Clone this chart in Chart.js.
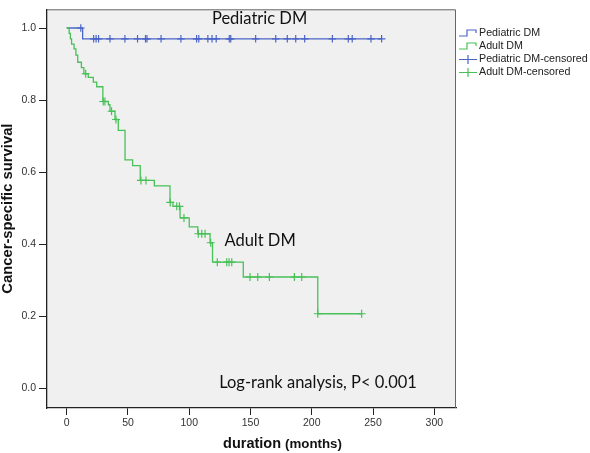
<!DOCTYPE html>
<html>
<head>
<meta charset="utf-8">
<script src="https://cdn.jsdelivr.net/npm/chart.js@4.4.1/dist/chart.umd.min.js"></script>
<style>
html,body{margin:0;padding:0;background:#fff;}
canvas{display:block;}
</style>
</head>
<body>
<canvas id="c" width="590" height="453"></canvas>
<script>
// ---- data ----
const seriesNames = ['Pediatric DM', 'Adult DM', 'Pediatric DM-censored', 'Adult DM-censored'];

// Kaplan-Meier step points (time in months, survival after event)
const pedTimes = [0, 13, 257];
const pedSurv  = [1.0, 0.970, 0.970];

const adultTimes = [0, 2, 3, 4, 6, 7.5, 9, 12, 14, 17.6, 21.7, 24.5, 29.5, 34, 35.3, 39.4, 42.1, 47.6, 53.8, 60, 71.5, 84.3, 86.7, 92.5, 100, 107, 117, 119, 144.1, 204.9, 240.7];
const adultSurv  = [1.0, 0.985, 0.97, 0.955, 0.942, 0.925, 0.905, 0.89, 0.873, 0.863, 0.85, 0.837, 0.796, 0.787, 0.769, 0.746, 0.716, 0.634, 0.618, 0.577, 0.562, 0.516, 0.505, 0.473, 0.448, 0.429, 0.404, 0.35, 0.309, 0.207, 0.207];

// censored observations
const pedCensorTimes = [11.5, 22, 24, 26, 35.3, 47.5, 57.8, 64.3, 65.5, 77, 93.2, 106, 107.8, 115.2, 118.6, 122, 132.7, 133.9, 154.2, 170.6, 180, 186.9, 194.2, 216.8, 229.8, 233, 248.3, 257];
const pedCensorSurv  = [1.0, 0.97, 0.97, 0.97, 0.97, 0.97, 0.97, 0.97, 0.97, 0.97, 0.97, 0.97, 0.97, 0.97, 0.97, 0.97, 0.97, 0.97, 0.97, 0.97, 0.97, 0.97, 0.97, 0.97, 0.97, 0.97, 0.97, 0.97];

const adultCensorTimes = [15.5, 29.8, 31.2, 36.6, 40.2, 60.6, 64.7, 84.5, 89.8, 92, 95.7, 107.4, 110.2, 112.9, 117.5, 122.9, 130.6, 132.5, 134.7, 149.6, 155.9, 165.4, 185.8, 191.8, 204.9, 240.7];
const adultCensorSurv  = [0.873, 0.796, 0.796, 0.769, 0.746, 0.577, 0.577, 0.516, 0.505, 0.505, 0.473, 0.429, 0.429, 0.429, 0.404, 0.35, 0.35, 0.35, 0.35, 0.309, 0.309, 0.309, 0.309, 0.309, 0.207, 0.207];

// axes
const xTicks = [0, 50, 100, 150, 200, 250, 300];
const xTickLabels = ['0', '50', '100', '150', '200', '250', '300'];
const yTicks = [0, 0.2, 0.4, 0.6, 0.8, 1.0];
const yTickLabels = ['0.0', '0.2', '0.4', '0.6', '0.8', '1.0'];
const xTitleMain = 'duration';
const xTitleUnit = '(months)';
const yTitle = 'Cancer-specific survival';

// in-plot annotations (data coordinates)
const noteTexts = ['Pediatric DM', 'Adult DM', 'Log-rank analysis, P< 0.001'];
const noteX = [157.4, 157.8, 205.1];
const noteY = [1.027, 0.41, 0.016];

// ---- styling ----
const BLUE = '#4a64c8';
const GREEN = '#47c157';
const toPts = (xs, ys) => xs.map((x, i) => ({x: x, y: ys[i]}));

const bgPlugin = {
  id: 'plotbg',
  beforeDraw(chart) {
    const {ctx, chartArea: a} = chart;
    ctx.save();
    ctx.fillStyle = '#f0f0f0';
    ctx.fillRect(a.left, a.top, a.right - a.left, a.bottom - a.top);
    ctx.restore();
  },
  afterDraw(chart) {
    const {ctx, chartArea: a, scales} = chart;
    ctx.save();
    // frame top / right
    ctx.strokeStyle = '#666';
    ctx.lineWidth = 1;
    ctx.beginPath();
    ctx.moveTo(a.left, a.top + 0.5);
    ctx.lineTo(a.right - 0.5, a.top + 0.5);
    ctx.lineTo(a.right - 0.5, a.bottom);
    ctx.stroke();

    // annotations
    ctx.fillStyle = '#111';
    ctx.textAlign = 'center';
    ctx.textBaseline = 'middle';
    ctx.font = '16.5px Lato, "Open Sans", sans-serif';
    noteTexts.forEach((t, i) => {
      ctx.fillText(t, scales.x.getPixelForValue(noteX[i]), scales.y.getPixelForValue(noteY[i]));
    });

    // x axis title (two sizes)
    ctx.textAlign = 'left';
    ctx.textBaseline = 'alphabetic';
    ctx.fillStyle = '#111';
    const f1 = 'bold 14.5px "Liberation Sans", Arial, sans-serif';
    const f2 = 'bold 13.3px "Liberation Sans", Arial, sans-serif';
    ctx.font = f1; const w1 = ctx.measureText(xTitleMain + ' ').width;
    ctx.font = f2; const w2 = ctx.measureText(xTitleUnit).width;
    const cx = a.left + 235.5;
    let sx = cx - (w1 + w2) / 2;
    const by = 448;
    ctx.font = f1; ctx.fillText(xTitleMain + ' ', sx, by);
    ctx.font = f2; ctx.fillText(xTitleUnit, sx + w1, by);

    // legend
    const lx = 459, rows = [33, 46, 59.5, 72.5];
    const cols = [BLUE, GREEN, BLUE, GREEN];
    ctx.font = '10.7px "Liberation Sans", Arial, sans-serif';
    ctx.textBaseline = 'middle';
    rows.forEach((ry, i) => {
      ctx.strokeStyle = cols[i];
      ctx.lineWidth = 1.2;
      ctx.beginPath();
      if (i < 2) {
        ctx.moveTo(lx, ry + 3); ctx.lineTo(lx + 8, ry + 3); ctx.lineTo(lx + 8, ry - 3);
        ctx.lineTo(lx + 17, ry - 3); ctx.lineTo(lx + 17, ry);
      } else {
        ctx.moveTo(lx, ry); ctx.lineTo(lx + 18, ry);
        ctx.moveTo(lx + 9, ry - 4.5); ctx.lineTo(lx + 9, ry + 4.5);
      }
      ctx.stroke();
      ctx.fillStyle = '#222';
      ctx.fillText(seriesNames[i], lx + 20, ry);
    });
    ctx.restore();
  }
};

new Chart(document.getElementById('c'), {
  type: 'scatter',
  data: {
    datasets: [
      {label: seriesNames[0], type: 'line', data: toPts(pedTimes, pedSurv), borderColor: BLUE, borderWidth: 1.3, stepped: 'before', pointRadius: 0, fill: false, order: 2},
      {label: seriesNames[1], type: 'line', data: toPts(adultTimes, adultSurv), borderColor: GREEN, borderWidth: 1.3, stepped: 'before', pointRadius: 0, fill: false, order: 1},
      {label: seriesNames[2], data: toPts(pedCensorTimes, pedCensorSurv), pointStyle: 'cross', pointRadius: 3.8, borderColor: BLUE, borderWidth: 1.2, backgroundColor: BLUE, showLine: false, order: 2},
      {label: seriesNames[3], data: toPts(adultCensorTimes, adultCensorSurv), pointStyle: 'cross', pointRadius: 4, borderColor: GREEN, borderWidth: 1.2, backgroundColor: GREEN, showLine: false, order: 1}
    ]
  },
  options: {
    responsive: false,
    animation: false,
    events: [],
    layout: {padding: {top: 3, right: 134, left: 0, bottom: 0}},
    plugins: {legend: {display: false}, tooltip: {enabled: false}, title: {display: false}},
    scales: {
      x: {
        type: 'linear', min: -16.08, max: 317.7,
        afterBuildTicks: s => { s.ticks = xTicks.map(v => ({value: v})); },
        afterFit: s => { s.height = 45; },
        grid: {drawOnChartArea: false, drawTicks: true, tickLength: 7, color: '#222', lineWidth: 1},
        border: {display: true, color: '#222', width: 1.3},
        ticks: {color: '#333', font: {family: '"Liberation Sans", Arial, sans-serif', size: 10.5}, padding: 2, maxRotation: 0, autoSkip: false,
          callback: (v) => { const i = xTicks.indexOf(v); return i >= 0 ? xTickLabels[i] : ''; }}
      },
      y: {
        type: 'linear', min: -0.0546, max: 1.0519,
        afterBuildTicks: s => { s.ticks = yTicks.map(v => ({value: v})); },
        afterFit: s => { s.width = 47; },
        grid: {drawOnChartArea: false, drawTicks: true, tickLength: 8, color: '#222', lineWidth: 1},
        border: {display: true, color: '#222', width: 1.3},
        ticks: {color: '#333', font: {family: '"Liberation Sans", Arial, sans-serif', size: 10.5}, padding: 3, autoSkip: false,
          callback: (v) => { const i = yTicks.findIndex(t => Math.abs(t - v) < 1e-9); return i >= 0 ? yTickLabels[i] : ''; }},
        title: {display: true, text: yTitle, color: '#111', padding: {top: 0, bottom: 0},
          font: {family: '"Liberation Sans", Arial, sans-serif', size: 14.8, weight: 'bold', lineHeight: 1.05}}
      }
    }
  },
  plugins: [bgPlugin]
});
</script>
</body>
</html>
